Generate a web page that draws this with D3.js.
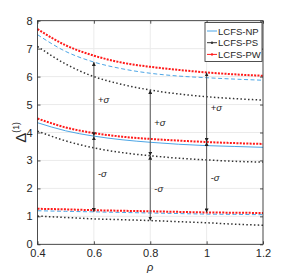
<!DOCTYPE html>
<html>
<head>
<meta charset="utf-8">
<script src="https://cdn.jsdelivr.net/npm/d3@7"></script>
<style>
  body { margin: 0; background: #fff; }
  text { font-family: "Liberation Sans", Arial, sans-serif; }
</style>
</head>
<body>
<div id="chart"></div>
<script>
// rho values (x axis)
const rho = [0.4, 0.5, 0.6, 0.7, 0.8, 0.9, 1.0, 1.1, 1.2];

// mean + sigma
const npUpper = [7.50, 6.90, 6.52, 6.28, 6.12, 6.02, 5.96, 5.91, 5.87];
const psUpper = [7.08, 6.45, 6.00, 5.72, 5.52, 5.38, 5.28, 5.21, 5.16];
const pwUpper = [7.70, 7.12, 6.75, 6.50, 6.35, 6.24, 6.15, 6.08, 6.03];

// mean
const npMean = [4.35, 4.06, 3.87, 3.74, 3.65, 3.58, 3.53, 3.50, 3.47];
const psMean = [4.05, 3.70, 3.45, 3.28, 3.17, 3.08, 3.02, 2.97, 2.94];
const pwMean = [4.50, 4.18, 3.98, 3.85, 3.77, 3.71, 3.66, 3.62, 3.59];

// mean - sigma
const npLower = [1.20, 1.18, 1.16, 1.14, 1.12, 1.10, 1.08, 1.07, 1.06];
const psLower = [1.01, 0.96, 0.91, 0.88, 0.85, 0.81, 0.77, 0.72, 0.68];
const pwLower = [1.27, 1.25, 1.22, 1.20, 1.18, 1.16, 1.14, 1.13, 1.12];

const xTicks = [0.4, 0.6, 0.8, 1.0, 1.2];
const yTicks = [0, 1, 2, 3, 4, 5, 6, 7, 8];

// sigma arrows: x position and which series (index into rho)
const arrows = [
  {x: 0.6, mean: npMean[2], up: npUpper[2], low: npLower[2]},
  {x: 0.8, mean: psMean[4], up: psUpper[4], low: psLower[4]},
  {x: 1.0, mean: pwMean[6], up: pwUpper[6], low: pwLower[6]}
];

const legendNames = ["LCFS-NP", "LCFS-PS", "LCFS-PW"];

const W = 291, H = 274;
const margin = {top: 20.7, right: 28, bottom: 29.7, left: 37.5};
const width = W - margin.left - margin.right;
const height = H - margin.top - margin.bottom;

const blue = "#4da6e6", red = "#ff1a1a", dark = "#333333";

const svg = d3.select("#chart").append("svg")
  .attr("width", W).attr("height", H);

const defs = svg.append("defs");
defs.append("marker")
  .attr("id", "ah")
  .attr("viewBox", "0 0 10 10")
  .attr("refX", 10).attr("refY", 5)
  .attr("markerWidth", 4).attr("markerHeight", 4)
  .attr("orient", "auto-start-reverse")
  .append("path")
  .attr("d", "M0,0 L10,5 L0,10 z")
  .attr("fill", "#222");

const g = svg.append("g")
  .attr("transform", "translate(" + margin.left + "," + margin.top + ")");

const x = d3.scaleLinear().domain([0.4, 1.2]).range([0, width]);
const y = d3.scaleLinear().domain([0, 8]).range([height, 0]);

// grid
g.append("g").selectAll("line").data(xTicks).join("line")
  .attr("x1", d => x(d)).attr("x2", d => x(d))
  .attr("y1", 0).attr("y2", height)
  .attr("stroke", "#ebebeb").attr("stroke-width", 1);
g.append("g").selectAll("line").data(yTicks).join("line")
  .attr("x1", 0).attr("x2", width)
  .attr("y1", d => y(d)).attr("y2", d => y(d))
  .attr("stroke", "#ebebeb").attr("stroke-width", 1);

const line = d3.line()
  .x((d, i) => x(rho[i]))
  .y(d => y(d))
  .curve(d3.curveMonotoneX);

const series = [
  {v: npUpper, c: blue, w: 1, dash: "4,2.5"},
  {v: npMean, c: blue, w: 1, dash: null},
  {v: npLower, c: blue, w: 1, dash: "4,2.5"},
  {v: psUpper, c: dark, w: 1.5, dash: "1.5,2.3"},
  {v: psMean, c: dark, w: 1.5, dash: "1.5,2.3"},
  {v: psLower, c: dark, w: 1.5, dash: "1.5,2.3"},
  {v: pwUpper, c: red, w: 2, dash: "2,1.3"},
  {v: pwMean, c: red, w: 2, dash: "2,1.3"},
  {v: pwLower, c: red, w: 2, dash: "2,1.3"}
];

g.append("g").selectAll("path").data(series).join("path")
  .attr("d", d => line(d.v))
  .attr("fill", "none")
  .attr("stroke", d => d.c)
  .attr("stroke-width", d => d.w)
  .attr("stroke-dasharray", d => d.dash);

// sigma arrows
const ag = g.append("g");
arrows.forEach(a => {
  [[a.mean, a.up], [a.mean, a.low]].forEach(seg => {
    ag.append("line")
      .attr("x1", x(a.x)).attr("x2", x(a.x))
      .attr("y1", y(seg[0])).attr("y2", y(seg[1]))
      .attr("stroke", "#555").attr("stroke-width", 1)
      .attr("marker-start", "url(#ah)")
      .attr("marker-end", "url(#ah)");
  });
  const lbl = [["+", (a.mean + a.up) / 2], ["-", (a.mean + a.low) / 2]];
  lbl.forEach(l => {
    const t = ag.append("text")
      .attr("x", x(a.x) + 4).attr("y", y(l[1]) + 3.5)
      .attr("font-size", "9.5px").attr("fill", "#222");
    t.append("tspan").text(l[0]);
    t.append("tspan").attr("font-style", "italic").text("σ");
  });
});

// box and axes
g.append("rect")
  .attr("width", width).attr("height", height)
  .attr("fill", "none").attr("stroke", "#262626").attr("stroke-width", 0.8);

const xAxis = d3.axisBottom(x).tickValues(xTicks).tickSize(-3).tickPadding(5)
  .tickFormat(d => d3.format("")(+d.toFixed(1)));
g.append("g").attr("transform", "translate(0," + height + ")").call(xAxis)
  .call(s => s.select(".domain").remove())
  .call(s => s.selectAll("text").attr("font-size", "11px").attr("fill", "#262626")
    .attr("font-family", "Liberation Sans, Arial, sans-serif"));
g.append("g").call(d3.axisTop(x).tickValues(xTicks).tickSize(-3).tickFormat(""))
  .call(s => s.select(".domain").remove());

const yAxis = d3.axisLeft(y).tickValues(yTicks).tickSize(-3).tickPadding(5);
g.append("g").call(yAxis)
  .call(s => s.select(".domain").remove())
  .call(s => s.selectAll("text").attr("font-size", "11px").attr("fill", "#262626")
    .attr("font-family", "Liberation Sans, Arial, sans-serif"));
g.append("g").attr("transform", "translate(" + width + ",0)")
  .call(d3.axisRight(y).tickValues(yTicks).tickSize(-3).tickFormat(""))
  .call(s => s.select(".domain").remove());
g.selectAll(".tick line").attr("stroke", "#262626").attr("stroke-width", 0.8);

// axis labels
svg.append("text")
  .attr("x", margin.left + width / 2).attr("y", 271)
  .attr("text-anchor", "middle").attr("font-size", "11px")
  .attr("font-style", "italic").attr("fill", "#262626").text("ρ");

const yl = svg.append("text")
  .attr("transform", "translate(26," + (margin.top + height / 2) + ") rotate(-90)")
  .attr("text-anchor", "middle").attr("fill", "#262626");
yl.append("tspan").attr("font-size", "15px").text("Δ");
yl.append("tspan").attr("font-size", "8.5px").attr("dy", "-7").text("(1)");

// legend
const lg = svg.append("g").attr("transform", "translate(205,22.5)");
lg.append("rect").attr("width", 57).attr("height", 39)
  .attr("fill", "#fff").attr("stroke", "#262626").attr("stroke-width", 0.8);
const legStyles = [
  {c: blue, w: 1, dot: false},
  {c: dark, w: 1, dot: true},
  {c: red, w: 1, dot: true}
];
legendNames.forEach((n, i) => {
  const yy = 8.5 + i * 11.7;
  lg.append("line").attr("x1", 2).attr("x2", 12).attr("y1", yy).attr("y2", yy)
    .attr("stroke", legStyles[i].c).attr("stroke-width", legStyles[i].w);
  if (legStyles[i].dot) {
    lg.append("circle").attr("cx", 7).attr("cy", yy).attr("r", 1.2)
      .attr("fill", legStyles[i].c);
  }
  lg.append("text").attr("x", 13).attr("y", yy + 3.5)
    .attr("font-size", "9.5px").attr("fill", "#262626").text(n);
});
</script>
</body>
</html>
